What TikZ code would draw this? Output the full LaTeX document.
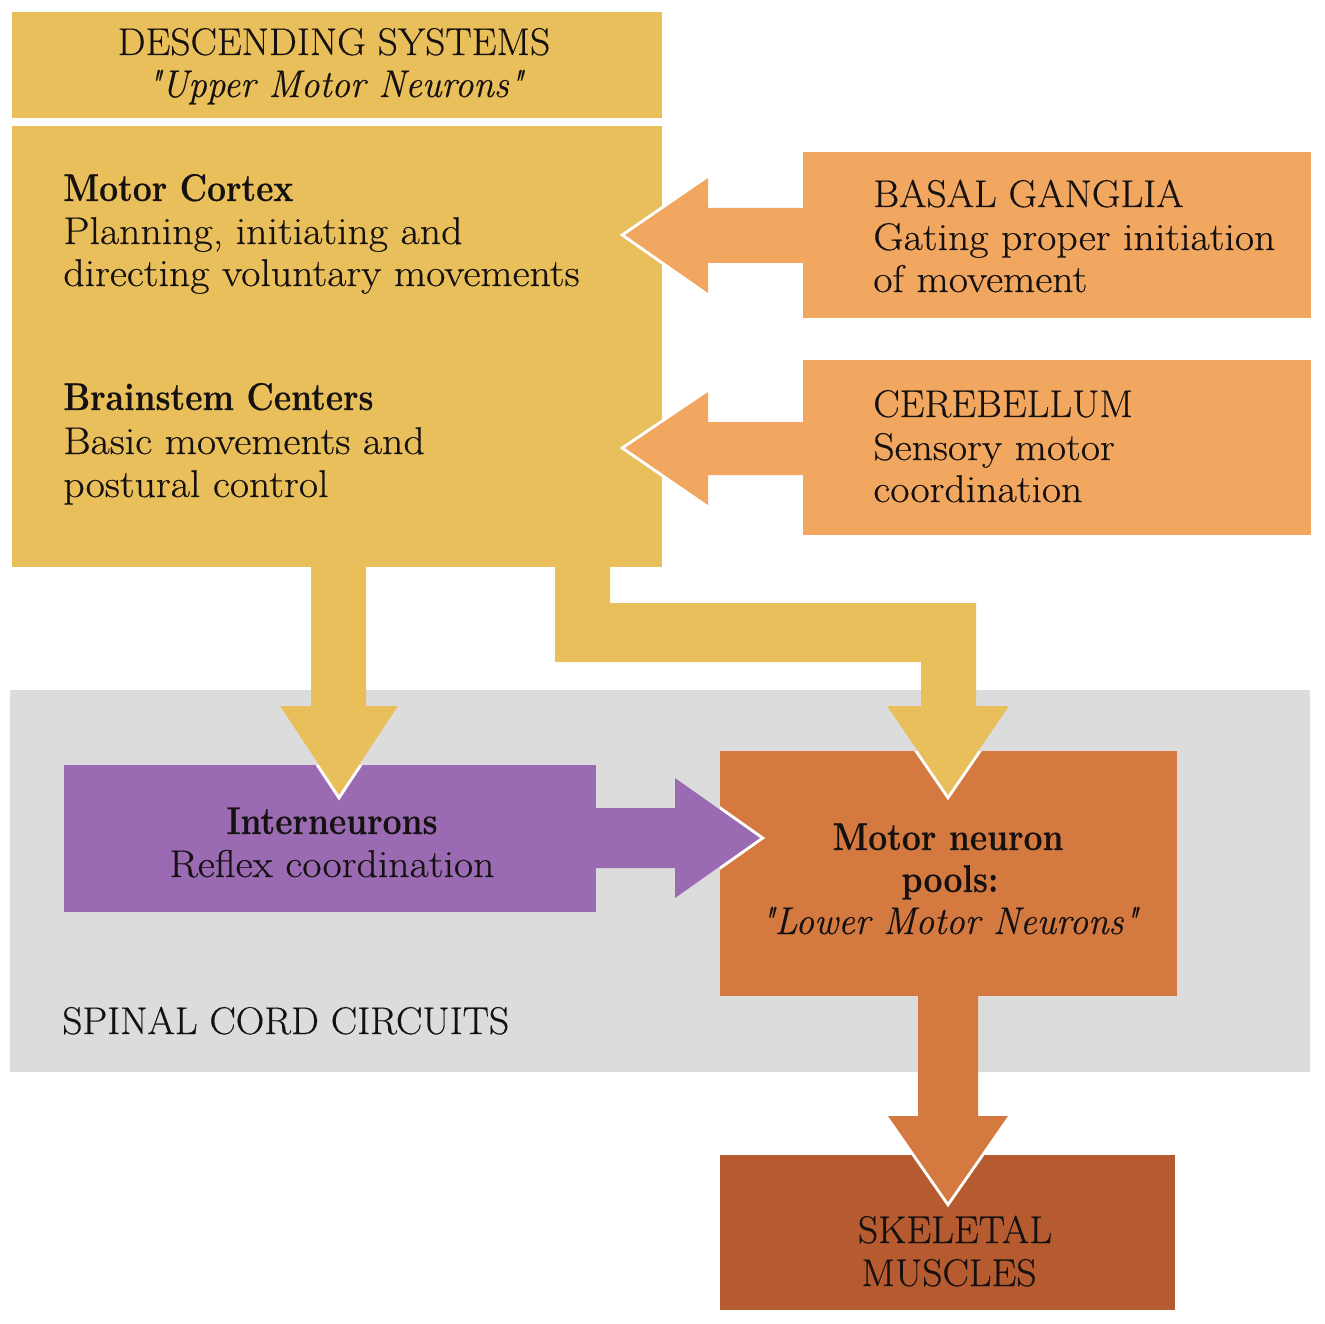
\documentclass[tikz,border=0pt]{standalone}
\usepackage{fontspec}
\setmainfont{Latin Modern Roman}[FakeStretch=1.08,FakeBold=0.4,Ligatures=TeXOff]
\usepackage{graphicx}
\usetikzlibrary{fit}
\definecolor{gold}{HTML}{E8BF5A}
\definecolor{orng}{HTML}{F1A760}
\definecolor{band}{HTML}{DCDCDC}
\definecolor{purp}{HTML}{9A6BB2}
\definecolor{mnpc}{HTML}{D47A40}
\definecolor{skelc}{HTML}{B55B2F}
\definecolor{ink}{HTML}{161111}
\newcommand\nbf[1]{\scalebox{0.805}[1]{\bfseries #1}}
\newcommand\nit[1]{\scalebox{0.888}[1]{\itshape #1}}
\newcommand\ncap[1]{\scalebox{0.945}[1]{#1}}
\begin{document}
\begin{tikzpicture}[x=0.02cm,y=-0.02cm,
  boxst/.style={inner sep=0pt,outer sep=0pt,draw=none},
  txt/.style={inner sep=0pt,text=ink,font=\fontsize{22}{25}\selectfont},
  outl/.style={draw=white,line width=0.12cm,line join=miter},
  arrBG/.style={insert path={(803,208) -- (708,208) -- (708,178) -- (625,235) -- (708,293) -- (708,263) -- (803,263) -- cycle}},
  arrCB/.style={insert path={(803,422) -- (708,422) -- (708,392) -- (625,448) -- (708,505) -- (708,475) -- (803,475) -- cycle}},
  arrIN/.style={insert path={(311,560) -- (311,706) -- (280,706) -- (339,795) -- (398,706) -- (366,706) -- (366,560) -- cycle}},
  arrMN/.style={insert path={(555,560) -- (555,662) -- (921,662) -- (921,706) -- (887,706) -- (948,795) -- (1009,706) -- (976,706) -- (976,603) -- (610,603) -- (610,560) -- cycle}},
  arrPU/.style={insert path={(590,808) -- (675,808) -- (675,778) -- (760,838) -- (675,898) -- (675,868) -- (590,868) -- cycle}},
  arrSK/.style={insert path={(918,990) -- (918,1116) -- (888,1116) -- (948,1202) -- (1008,1116) -- (978,1116) -- (978,990) -- cycle}}
]
\useasboundingbox (0,0) rectangle (1325,1324);
\fill[white] (0,0) rectangle (1325,1324);

% regions and boxes
\node[boxst,fill=band,fit={(10,690) (1310,1072)}] (band) {};
\node[boxst,fill=gold,fit={(12,12) (662,118)}] (title) {};
\node[boxst,fill=gold,fit={(12,126) (662,567)}] (desc) {};
\node[boxst,fill=orng,fit={(803,152) (1311,318)}] (basal) {};
\node[boxst,fill=orng,fit={(803,360) (1311,535)}] (cereb) {};
\node[boxst,fill=purp,fit={(64,765) (596,912)}] (inter) {};
\node[boxst,fill=mnpc,fit={(720,751) (1177,996)}] (mnp) {};
\node[boxst,fill=skelc,fit={(720,1155) (1175,1310)}] (skel) {};

% block arrows: white rim where the head overlaps the target box
\begin{scope}\clip (desc.north west) rectangle (desc.south east);
  \path[outl,arrBG]; \path[outl,arrCB];
\end{scope}
\begin{scope}\clip (inter.north west) rectangle (inter.south east);
  \path[outl,arrIN];
\end{scope}
\begin{scope}\clip (mnp.north west) rectangle (mnp.south east);
  \path[outl,arrMN]; \path[outl,arrPU];
\end{scope}
\begin{scope}\clip (skel.north west) rectangle (skel.south east);
  \path[outl,arrSK];
\end{scope}
\fill[orng,arrBG];
\fill[orng,arrCB];
\fill[gold,arrIN];
\fill[gold,arrMN];
\fill[purp,arrPU];
\fill[mnpc,arrSK];

% texts
\node[txt,anchor=base] (t1) at (334,55) {\ncap{DESCENDING SYSTEMS}};
\node[txt,anchor=base] (t2) at (335,97) {\nit{"Upper Motor Neurons"}};

\node[txt,anchor=base west] (mc1) at (63,201) {\nbf{Motor Cortex}};
\node[txt,anchor=base west] (mc2) at (63,244) {Planning, initiating and};
\node[txt,anchor=base west] (mc3) at (63,286) {directing voluntary movements};

\node[txt,anchor=base west] (bs1) at (63,410) {\nbf{Brainstem Centers}};
\node[txt,anchor=base west] (bs2) at (63,454) {Basic movements and};
\node[txt,anchor=base west] (bs3) at (63,497) {postural control};

\node[txt,anchor=base west] (bg1) at (873,207) {\ncap{BASAL GANGLIA}};
\node[txt,anchor=base west] (bg2) at (873,250) {Gating proper initiation};
\node[txt,anchor=base west] (bg3) at (873,292) {of movement};

\node[txt,anchor=base west] (cb1) at (873,417) {\ncap{CEREBELLUM}};
\node[txt,anchor=base west] (cb2) at (873,460) {Sensory motor};
\node[txt,anchor=base west] (cb3) at (873,502) {coordination};

\node[txt,anchor=base] (in1) at (332,834) {\nbf{Interneurons}};
\node[txt,anchor=base] (in2) at (332,877) {Reflex coordination};

\node[txt,anchor=base] (mn1) at (948,850) {\nbf{Motor neuron}};
\node[txt,anchor=base] (mn2) at (950,892) {\nbf{pools:}};
\node[txt,anchor=base] (mn3) at (949,934) {\nit{"Lower Motor Neurons"}};

\node[txt,anchor=base west] (sc) at (62,1034) {\ncap{SPINAL CORD CIRCUITS}};

\node[txt,anchor=base] (sk1) at (955,1243) {\ncap{SKELETAL}};
\node[txt,anchor=base] (sk2) at (949,1286) {\ncap{MUSCLES}};
\end{tikzpicture}
\end{document}
